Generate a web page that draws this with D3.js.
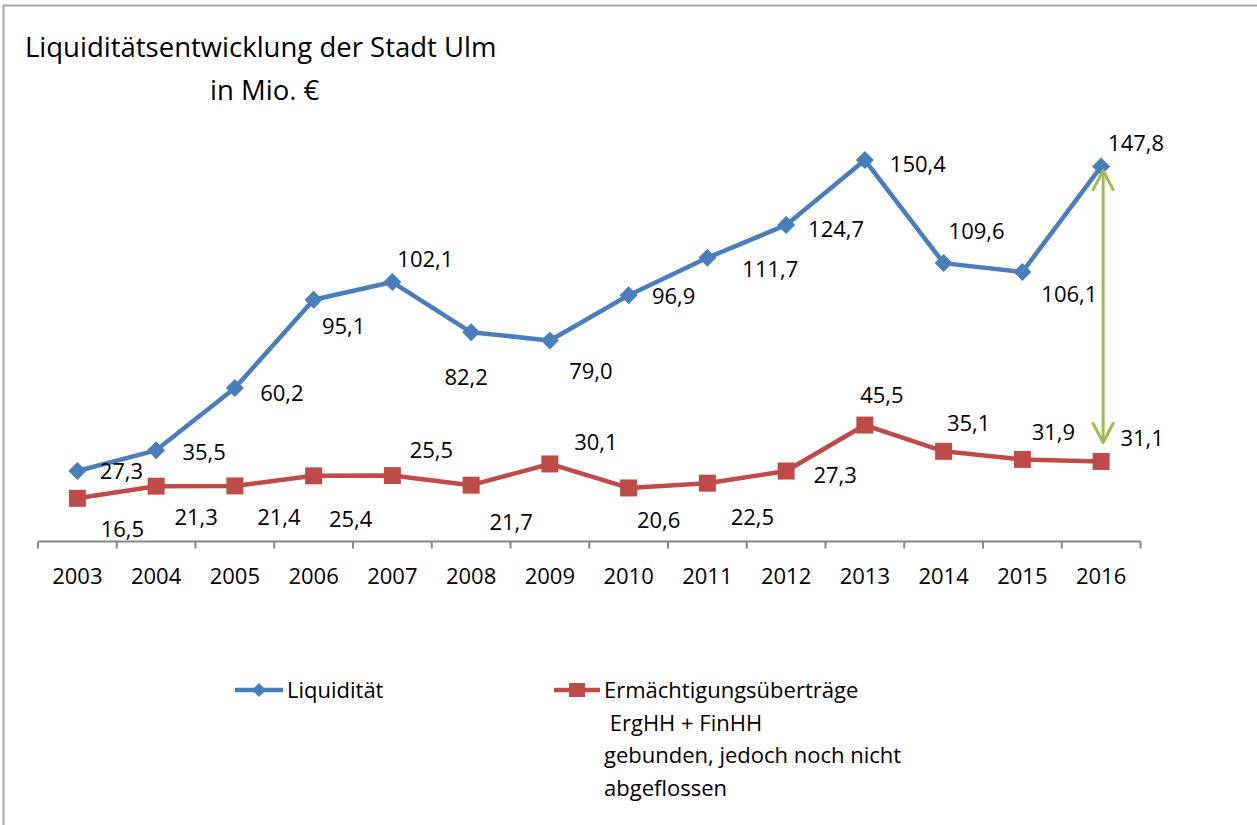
<!DOCTYPE html>
<html>
<head>
<meta charset="utf-8">
<script src="https://cdn.jsdelivr.net/npm/d3@7"></script>
<style>
  body { margin: 0; background: #fff; }
  svg text { font-family: "Open Sans", "Noto Sans", sans-serif; fill: #000; }
</style>
</head>
<body>
<div id="chart"></div>
<script>
// data
const years = ["2003", "2004", "2005", "2006", "2007", "2008", "2009", "2010", "2011", "2012", "2013", "2014", "2015", "2016"];
const liquiditaet = [27.3, 35.5, 60.2, 95.1, 102.1, 82.2, 79.0, 96.9, 111.7, 124.7, 150.4, 109.6, 106.1, 147.8];
const uebertraege = [16.5, 21.3, 21.4, 25.4, 25.5, 21.7, 30.1, 20.6, 22.5, 27.3, 45.5, 35.1, 31.9, 31.1];

// label offsets (px) from each point, placed by hand like in the original
const blueLabelOffsets = [[44, 0], [48, 2], [47, 5], [30, 27], [33, -23], [-5, 45], [41, 31], [45, 1], [63, 11], [50, 4], [53, 4], [33, -32], [47, 22], [35, -23]];
const redLabelOffsets = [[45, 31], [40, 31], [44, 31], [37, 43], [39, -25], [40, 37], [46, -22], [30, 32], [45, 34], [49, 4], [17, -30], [25, -28], [31, -27], [41, -23]];

const WIDTH = 1257, HEIGHT = 825;
const blue = "#4a7ebb", red = "#be4b48", green = "#9bbb59";

let svg = d3.select("#chart")
    .append("svg")
    .attr("width", WIDTH)
    .attr("height", HEIGHT)
    .style("display", "block");

// frame of the chart object
svg.append("rect")
    .attr("x", 3.5).attr("y", 5.5)
    .attr("width", WIDTH + 20).attr("height", HEIGHT + 20)
    .attr("fill", "none")
    .attr("stroke", "#a6a6a6")
    .attr("stroke-width", 2);

// title
svg.append("text")
    .attr("x", 25).attr("y", 57)
    .style("font-size", "27.5px")
    .text("Liquiditätsentwicklung der Stadt Ulm");
svg.append("text")
    .attr("x", 210).attr("y", 100)
    .style("font-size", "27.5px")
    .text("in Mio. €");

let x = d3.scaleBand().domain(years).range([38, 1140.5]);
let y = d3.scaleLinear().domain([0, 160]).range([540, 135.8]);
const cx = d => x(d) + x.bandwidth() / 2;

// x axis with ticks between categories
let axisG = svg.append("g").attr("transform", "translate(0,541.5)");
axisG.append("line")
    .attr("x1", 38).attr("x2", 1140.5)
    .attr("stroke", "#868686").attr("stroke-width", 2);
axisG.selectAll(".tick")
    .data(years.concat(["end"]))
    .enter()
    .append("line")
    .attr("x1", (d, i) => 38 + i * x.bandwidth())
    .attr("x2", (d, i) => 38 + i * x.bandwidth())
    .attr("y1", 0).attr("y2", 7)
    .attr("stroke", "#868686").attr("stroke-width", 2);
axisG.selectAll(".yl")
    .data(years)
    .enter()
    .append("text")
    .attr("x", d => cx(d))
    .attr("y", 42)
    .attr("text-anchor", "middle")
    .style("font-size", "22px")
    .text(d => d);

function drawSeries(values, color, offsets, marker) {
    let pts = values.map((v, i) => ({ year: years[i], v: v, off: offsets[i] }));

    svg.append("path")
        .datum(pts)
        .attr("fill", "none")
        .attr("stroke", color)
        .attr("stroke-width", 4.5)
        .attr("stroke-linejoin", "round")
        .attr("d", d3.line().x(d => cx(d.year)).y(d => y(d.v)));

    svg.selectAll(null)
        .data(pts)
        .enter()
        .append("path")
        .attr("transform", d => `translate(${cx(d.year)},${y(d.v)})`)
        .attr("d", marker)
        .attr("fill", color);

    svg.selectAll(null)
        .data(pts)
        .enter()
        .append("text")
        .attr("x", d => cx(d.year) + d.off[0])
        .attr("y", d => y(d.v) + d.off[1])
        .attr("dy", "0.35em")
        .attr("text-anchor", "middle")
        .style("font-size", "22px")
        .text(d => d3.format(".1f")(d.v).replace(".", ","));
}

const diamond = "M0,-9L9,0L0,9L-9,0Z";
const square = "M-8.5,-8.5H8.5V8.5H-8.5Z";

drawSeries(uebertraege, red, redLabelOffsets, square);
drawSeries(liquiditaet, blue, blueLabelOffsets, diamond);

// green double arrow between the 2016 values
let arrowX = cx("2016") + 2;
let arrowTop = y(liquiditaet[13]) + 4, arrowBot = y(uebertraege[13]) - 19;
svg.append("line")
    .attr("x1", arrowX).attr("x2", arrowX)
    .attr("y1", arrowTop + 2).attr("y2", arrowBot - 2)
    .attr("stroke", green).attr("stroke-width", 3);
svg.append("path")
    .attr("d", `M${arrowX - 10},${arrowTop + 19}L${arrowX},${arrowTop}L${arrowX + 10},${arrowTop + 19}`)
    .attr("fill", "none").attr("stroke", green).attr("stroke-width", 3)
    .attr("stroke-linejoin", "round").attr("stroke-linecap", "round");
svg.append("path")
    .attr("d", `M${arrowX - 10},${arrowBot - 19}L${arrowX},${arrowBot}L${arrowX + 10},${arrowBot - 19}`)
    .attr("fill", "none").attr("stroke", green).attr("stroke-width", 3)
    .attr("stroke-linejoin", "round").attr("stroke-linecap", "round");

// legend
let leg = svg.append("g");
leg.append("line").attr("x1", 235).attr("x2", 283).attr("y1", 690).attr("y2", 690)
    .attr("stroke", blue).attr("stroke-width", 4.5);
leg.append("path").attr("transform", "translate(259,690)").attr("d", "M0,-7L7,0L0,7L-7,0Z").attr("fill", blue);
leg.append("text").attr("x", 287).attr("y", 698).style("font-size", "22px").text("Liquidität");

leg.append("line").attr("x1", 554).attr("x2", 600).attr("y1", 690).attr("y2", 690)
    .attr("stroke", red).attr("stroke-width", 4.5);
leg.append("path").attr("transform", "translate(577,690)").attr("d", "M-8,-7H8V7H-8Z").attr("fill", red);
const redLegendLines = ["Ermächtigungsüberträge", " ErgHH + FinHH", "gebunden, jedoch noch nicht", "abgeflossen"];
leg.selectAll(null)
    .data(redLegendLines)
    .enter()
    .append("text")
    .attr("x", 604)
    .attr("y", (d, i) => 698 + i * 32.5)
    .attr("xml:space", "preserve")
    .style("white-space", "pre")
    .style("font-size", "22px")
    .text(d => d);
</script>
</body>
</html>
